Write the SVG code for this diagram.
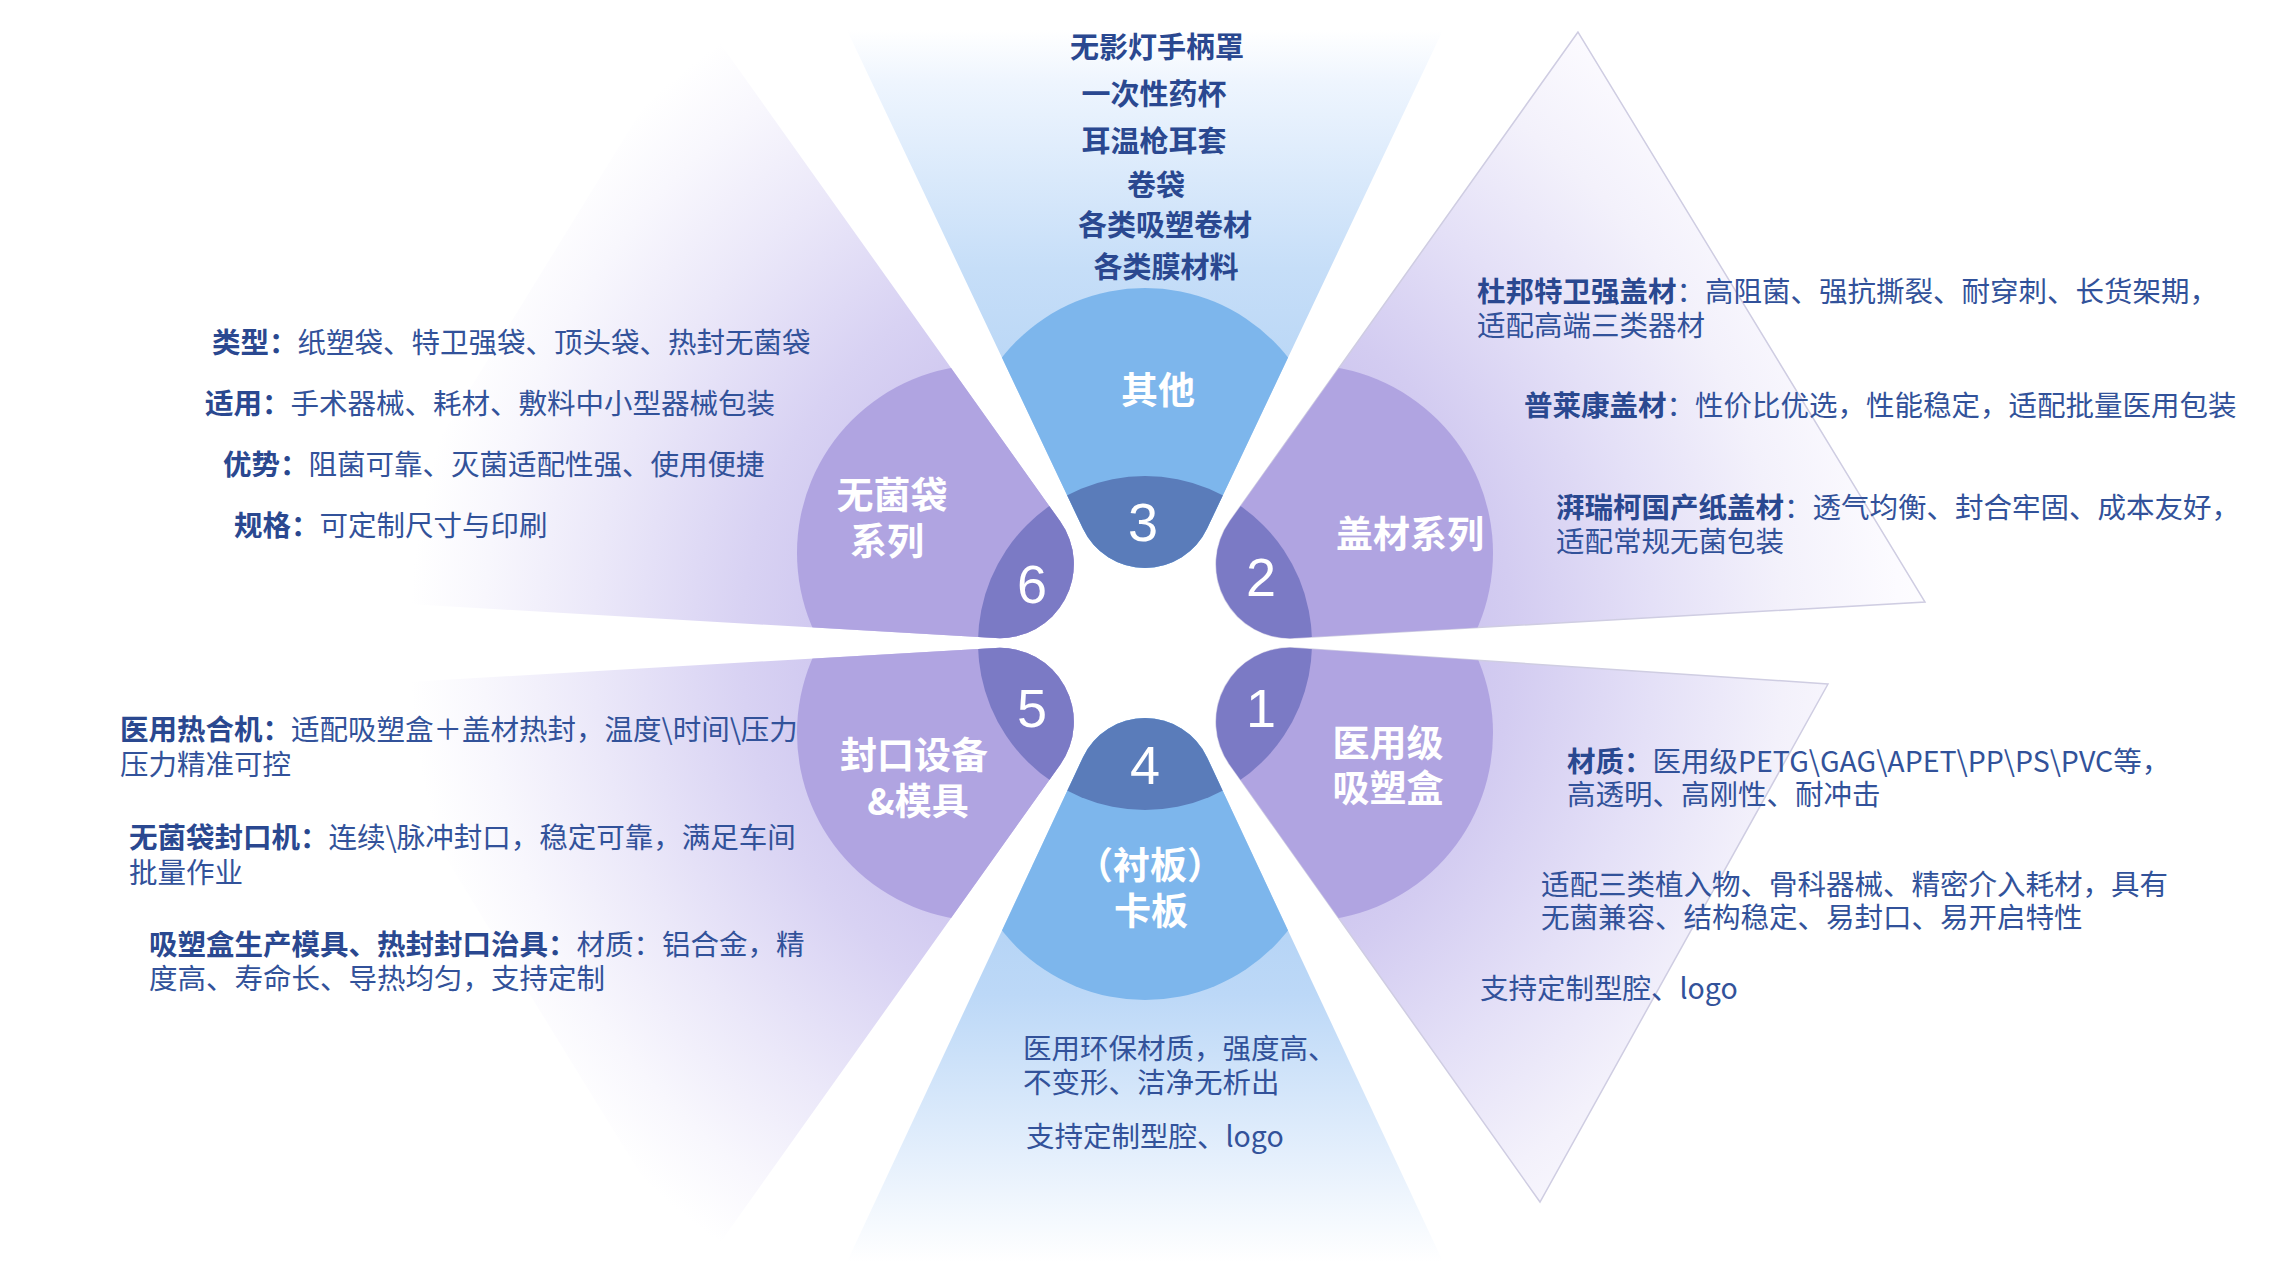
<svg xmlns="http://www.w3.org/2000/svg" xmlns:xlink="http://www.w3.org/1999/xlink" width="2275" height="1279" viewBox="0 0 2275 1279">
<style>
.t{font-family:"Noto Sans CJK SC","Noto Sans",sans-serif;font-size:28.5px;fill:#32529a}
.b{font-weight:700;fill:#2a4890}
.top{font-family:"Noto Sans CJK SC","Noto Sans",sans-serif;font-size:29px;font-weight:700;fill:#2a4890;text-anchor:middle}
.lbl{font-family:"Noto Sans CJK SC","Noto Sans",sans-serif;font-size:37px;font-weight:700;fill:#ffffff;text-anchor:middle}
.num{font-family:"Liberation Sans",Arial,sans-serif;font-size:54px;fill:#ffffff;text-anchor:middle}
.mb{fill:#7db6ec}
.db{fill:#5a7cba}
.mp{fill:#b0a4e1}
.dp{fill:#7b7ac5}
.edge{fill:none;stroke:#cfcde2;stroke-width:1.5}
</style>
<defs>
<linearGradient id="gTop" gradientUnits="userSpaceOnUse" x1="0" y1="30" x2="0" y2="560">
<stop offset="0" stop-color="#ffffff"/>
<stop offset="0.1" stop-color="#eef5fe"/>
<stop offset="0.45" stop-color="#c6def8"/>
<stop offset="1" stop-color="#a4caf2"/>
</linearGradient>
<linearGradient id="gBot" gradientUnits="userSpaceOnUse" x1="0" y1="1262" x2="0" y2="726">
<stop offset="0" stop-color="#ffffff"/>
<stop offset="0.2" stop-color="#e4effc"/>
<stop offset="0.5" stop-color="#bcd8f7"/>
<stop offset="1" stop-color="#a4caf2"/>
</linearGradient>
<radialGradient id="gPur" gradientUnits="userSpaceOnUse" cx="1145" cy="643" r="820">
<stop offset="0" stop-color="#bdb2e8"/>
<stop offset="0.25" stop-color="#c4bbeb"/>
<stop offset="0.45" stop-color="#d3ccf1"/>
<stop offset="0.62" stop-color="#e4e0f7"/>
<stop offset="0.78" stop-color="#f3f1fb"/>
<stop offset="0.92" stop-color="#fcfbff"/>
<stop offset="1" stop-color="#ffffff"/>
</radialGradient>
<radialGradient id="gPurL" gradientUnits="userSpaceOnUse" cx="1145" cy="643" r="735">
<stop offset="0" stop-color="#bdb2e8"/>
<stop offset="0.3" stop-color="#c6bdec"/>
<stop offset="0.55" stop-color="#d8d2f3"/>
<stop offset="0.75" stop-color="#ebe8f9"/>
<stop offset="0.9" stop-color="#f8f7fd"/>
<stop offset="1" stop-color="#ffffff"/>
</radialGradient>
<path id="p3" d="M 828,-10 L 1082.9,528.6 A 68.7 68.7 0 0 0 1207.1,528.6 L 1461.9,-10 Z"/>
<path id="p4" d="M 831,1296 L 1082.9,757.4 A 68.7 68.7 0 0 1 1207.1,757.4 L 1459,1296 Z"/>
<path id="p6" d="M 700,15 L 1060,521.1 A 74 74 0 0 1 995.7,638.1 L 340,600 Z"/>
<path id="p5" d="M 340,686 L 995.7,647.9 A 74 74 0 0 1 1060,764.9 L 700,1271 Z"/>
<path id="p2" d="M 1578,32 L 1230,521.1 A 74 74 0 0 0 1294.3,638.1 L 1925,602 Z"/>
<path id="p1" d="M 1828,684 L 1294.3,647.9 A 74 74 0 0 0 1230,764.9 L 1540,1202 Z"/>
<clipPath id="c1"><use xlink:href="#p1"/></clipPath>
<clipPath id="c2"><use xlink:href="#p2"/></clipPath>
<clipPath id="c3"><use xlink:href="#p3"/></clipPath>
<clipPath id="c4"><use xlink:href="#p4"/></clipPath>
<clipPath id="c5"><use xlink:href="#p5"/></clipPath>
<clipPath id="c6"><use xlink:href="#p6"/></clipPath>
</defs>
<rect width="2275" height="1279" fill="#ffffff"/>

<g id="node-3">
<use xlink:href="#p3" fill="url(#gTop)"/>
<circle class="mb" cx="1145" cy="470" r="182" clip-path="url(#c3)"/>
<circle class="db" cx="1145" cy="643" r="167" clip-path="url(#c3)"/>
<text class="num" x="1143" y="541">3</text>
<text class="lbl" x="1158" y="404">其他</text>
<text class="top" x="1157" y="58">无影灯手柄罩</text>
<text class="top" x="1154" y="105">一次性药杯</text>
<text class="top" x="1154" y="152">耳温枪耳套</text>
<text class="top" x="1156" y="196">卷袋</text>
<text class="top" x="1165" y="236">各类吸塑卷材</text>
<text class="top" x="1166" y="278">各类膜材料</text>
</g>

<g id="node-2">
<use xlink:href="#p2" fill="url(#gPur)"/>
<use xlink:href="#p2" class="edge"/>
<circle class="mp" cx="1305" cy="553" r="188" clip-path="url(#c2)"/>
<circle class="dp" cx="1145" cy="643" r="167" clip-path="url(#c2)"/>
<text class="num" x="1261" y="596">2</text>
<text class="lbl" x="1410" y="548">盖材系列</text>
<text class="t" x="1477" y="302"><tspan class="b">杜邦特卫强盖材</tspan>：高阻菌、强抗撕裂、耐穿刺、长货架期，<tspan x="1477" dy="34">适配高端三类器材</tspan></text>
<text class="t" x="1524" y="416"><tspan class="b">普莱康盖材</tspan>：性价比优选，性能稳定，适配批量医用包装</text>
<text class="t" x="1556" y="518"><tspan class="b">湃瑞柯国产纸盖材</tspan>：透气均衡、封合牢固、成本友好，<tspan x="1556" dy="34">适配常规无菌包装</tspan></text>
</g>

<g id="node-1">
<use xlink:href="#p1" fill="url(#gPur)"/>
<use xlink:href="#p1" class="edge"/>
<circle class="mp" cx="1305" cy="733" r="188" clip-path="url(#c1)"/>
<circle class="dp" cx="1145" cy="643" r="167" clip-path="url(#c1)"/>
<text class="num" x="1261" y="727">1</text>
<text class="lbl" x="1388" y="757">医用级<tspan x="1388" dy="45">吸塑盒</tspan></text>
<text class="t" x="1567" y="772"><tspan class="b">材质：</tspan>医用级PETG\GAG\APET\PP\PS\PVC等，<tspan x="1567" dy="33">高透明、高刚性、耐冲击</tspan></text>
<text class="t" x="1541" y="895">适配三类植入物、骨科器械、精密介入耗材，具有<tspan x="1541" dy="33">无菌兼容、结构稳定、易封口、易开启特性</tspan></text>
<text class="t" x="1480" y="999">支持定制型腔、logo</text>
</g>

<g id="node-4">
<use xlink:href="#p4" fill="url(#gBot)"/>
<circle class="mb" cx="1145" cy="818" r="182" clip-path="url(#c4)"/>
<circle class="db" cx="1145" cy="643" r="167" clip-path="url(#c4)"/>
<text class="num" x="1145" y="784">4</text>
<text class="lbl" x="1150" y="879">（衬板）<tspan x="1151" dy="46">卡板</tspan></text>
<text class="t" x="1023" y="1059">医用环保材质，强度高、<tspan x="1023" dy="34">不变形、洁净无析出</tspan></text>
<text class="t" x="1026" y="1147">支持定制型腔、logo</text>
</g>

<g id="node-5">
<use xlink:href="#p5" fill="url(#gPurL)"/>
<circle class="mp" cx="985" cy="733" r="188" clip-path="url(#c5)"/>
<circle class="dp" cx="1145" cy="643" r="167" clip-path="url(#c5)"/>
<text class="num" x="1032" y="727">5</text>
<text class="lbl" x="914" y="769">封口设备<tspan x="918" dy="46">&amp;模具</tspan></text>
<text class="t" x="120" y="740"><tspan class="b">医用热合机：</tspan>适配吸塑盒＋盖材热封，温度\时间\压力<tspan x="120" dy="35">压力精准可控</tspan></text>
<text class="t" x="129" y="848"><tspan class="b">无菌袋封口机：</tspan>连续\脉冲封口，稳定可靠，满足车间<tspan x="129" dy="35">批量作业</tspan></text>
<text class="t" x="149" y="955"><tspan class="b">吸塑盒生产模具、热封封口治具：</tspan>材质：铝合金，精<tspan x="149" dy="34">度高、寿命长、导热均匀，支持定制</tspan></text>
</g>

<g id="node-6">
<use xlink:href="#p6" fill="url(#gPurL)"/>
<circle class="mp" cx="985" cy="553" r="188" clip-path="url(#c6)"/>
<circle class="dp" cx="1145" cy="643" r="167" clip-path="url(#c6)"/>
<text class="num" x="1032" y="603">6</text>
<text class="lbl" x="892" y="509">无菌袋<tspan x="887" dy="46">系列</tspan></text>
<text class="t" x="212" y="353"><tspan class="b">类型：</tspan>纸塑袋、特卫强袋、顶头袋、热封无菌袋</text>
<text class="t" x="205" y="414"><tspan class="b">适用：</tspan>手术器械、耗材、敷料中小型器械包装</text>
<text class="t" x="223" y="475"><tspan class="b">优势：</tspan>阻菌可靠、灭菌适配性强、使用便捷</text>
<text class="t" x="234" y="536"><tspan class="b">规格：</tspan>可定制尺寸与印刷</text>
</g>
</svg>
